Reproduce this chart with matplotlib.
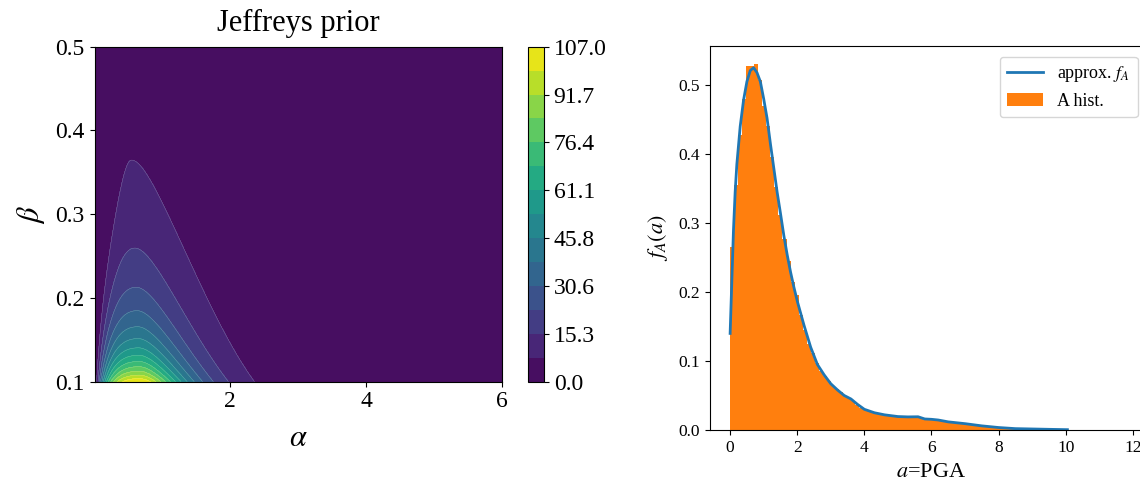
import numpy as np
import matplotlib
matplotlib.use("Agg")
import matplotlib.pyplot as plt

plt.rcParams['font.family'] = 'serif'
plt.rcParams['font.serif'] = ['Liberation Serif', 'DejaVu Serif']
plt.rcParams['mathtext.fontset'] = 'stix'

# ---------------- Left panel: Jeffreys prior surface (shape) ----
alpha_range = [0.01, 6.0]
beta_range = [0.1, 0.5]
peak_value = 106.96         # value at beta = 0.1 on the ridge
beta_exponent = 2.04        # ridge value ~ (0.1/beta)^k
ridge_alpha = [0.72, -0.45]  # ridge position: a0 + a1*beta
sigma_right = [0.47, 0.75]   # log-width right of ridge: s0 + s1*beta
sigma_left = [1.49, -2.73]  # log-width left of ridge:  s0 + s1*beta
cbar_max = 106.96
n_bands = 14

# ---------------- Right panel: A histogram and approximated density ---------------
bin_edges_range = [0.0, 12.0]
hist_heights = [
    0.265, 0.355, 0.428, 0.479, 0.527, 0.527, 0.530, 0.507, 0.469, 0.440,
    0.395, 0.352, 0.312, 0.277, 0.245, 0.215, 0.195, 0.167, 0.145, 0.125,
    0.111, 0.097, 0.086, 0.079, 0.071, 0.064, 0.059, 0.055, 0.049, 0.046,
    0.042, 0.036, 0.032, 0.029, 0.027, 0.025, 0.024, 0.022, 0.021, 0.021,
    0.020, 0.019, 0.019, 0.020, 0.018, 0.019, 0.019, 0.017, 0.015, 0.015,
    0.015, 0.014, 0.013, 0.012, 0.011, 0.011, 0.010, 0.0095, 0.009, 0.008,
    0.0072, 0.0066, 0.006, 0.0054, 0.005, 0.0045, 0.0038, 0.003, 0.0025, 0.0022,
    0.002, 0.0018, 0.0016, 0.0015, 0.0014, 0.0013, 0.0012, 0.0011, 0.001, 0.0009,
    0.0008, 0.0007, 0.0006, 0.0005, 0.0004, 0.0003, 0.0002, 0.0002, 0.0001, 0.0001,
    0.0001, 0.0, 0.0001, 0.0, 0.0, 0.0001, 0.0, 0.0, 0.0, 0.0001,
]
curve_x = [0.0, 0.05, 0.1, 0.15, 0.2, 0.3, 0.4, 0.5, 0.6, 0.7, 0.8, 0.9, 1.0,
           1.1, 1.2, 1.3, 1.4, 1.5, 1.6, 1.7, 1.8, 1.9, 2.0, 2.2, 2.4, 2.6,
           2.8, 3.0, 3.2, 3.4, 3.6, 3.8, 4.0, 4.3, 4.6, 5.0, 5.3, 5.6, 5.8,
           6.0, 6.2, 6.5, 7.0, 7.5, 8.0, 8.5, 9.0, 9.5, 10.05]
curve_y = [0.140, 0.215, 0.290, 0.345, 0.385, 0.440, 0.478, 0.505, 0.521, 0.525,
           0.518, 0.505, 0.480, 0.452, 0.415, 0.380, 0.345, 0.314, 0.282, 0.254,
           0.229, 0.207, 0.187, 0.152, 0.120, 0.095, 0.080, 0.067, 0.058, 0.050,
           0.045, 0.037, 0.030, 0.025, 0.022, 0.0195, 0.019, 0.0192, 0.016, 0.0155,
           0.0145, 0.0118, 0.0092, 0.0060, 0.0036, 0.0020, 0.0015, 0.0010, 0.0005]

fig = plt.figure(figsize=(11.4, 4.86), dpi=100)

# ---- left
ax1 = fig.add_axes([0.0829, 0.2146, 0.3575, 0.6893])
cax = fig.add_axes([0.4632, 0.2146, 0.0140, 0.6893])

a = np.linspace(alpha_range[0], alpha_range[1], 500)
b = np.linspace(beta_range[0], beta_range[1], 400)
A, B = np.meshgrid(a, b)
am = ridge_alpha[0] + ridge_alpha[1] * B
sR = sigma_right[0] + sigma_right[1] * B
sL = np.maximum(sigma_left[0] + sigma_left[1] * B, 0.2)
la = np.log(A / am)
s = np.where(la >= 0, sR, sL)
Z = peak_value * (beta_range[0] / B) ** beta_exponent * np.exp(-la ** 2 / (2 * s ** 2))

levels = np.linspace(0, cbar_max, n_bands + 1)
cf = ax1.contourf(A, B, Z, levels=levels, cmap='viridis', extend='neither')
ax1.contour(A, B, Z, levels=levels[1:-1], colors='white', linewidths=0.3, alpha=0.35)
ax1.set_xlim(alpha_range)
ax1.set_ylim(beta_range)
ax1.set_xticks([2, 4, 6])
ax1.set_yticks([0.1, 0.2, 0.3, 0.4, 0.5])
ax1.tick_params(labelsize=17)
ax1.set_title('Jeffreys prior', fontsize=22, pad=11)
ax1.set_xlabel(r'$\alpha$', fontsize=22, labelpad=8)
ax1.set_ylabel(r'$\beta$', fontsize=22, labelpad=6)

cb = fig.colorbar(cf, cax=cax, ticks=levels[::2])
cb.ax.set_yticklabels(['%.1f' % v for v in levels[::2]])
cb.ax.tick_params(labelsize=17)

# ---- right
ax2 = fig.add_axes([0.6228, 0.1152, 0.3886, 0.7901])
edges = np.linspace(bin_edges_range[0], bin_edges_range[1], len(hist_heights) + 1)
ax2.stairs(hist_heights, edges, fill=True, color='#ff7f0e', label='A hist.')
ax2.plot(curve_x, curve_y, color='#1f77b4', lw=2.0, label=r'approx. $f_A$')
ax2.set_xlim(-0.6, 12.6)
ax2.set_ylim(0, 0.5565)
ax2.set_xticks([0, 2, 4, 6, 8, 10, 12])
ax2.set_yticks([0.0, 0.1, 0.2, 0.3, 0.4, 0.5])
ax2.tick_params(labelsize=12.5)
ax2.set_xlabel(r'$a$=PGA', fontsize=16, labelpad=5)
ax2.set_ylabel(r'$f_A(a)$', fontsize=16, labelpad=6)
handles, labels = ax2.get_legend_handles_labels()
ax2.legend(handles[::-1], labels[::-1], loc='upper right', fontsize=13,
           bbox_to_anchor=(1.006, 0.902), bbox_transform=fig.transFigure)

fig.savefig('out.png', dpi=100)
